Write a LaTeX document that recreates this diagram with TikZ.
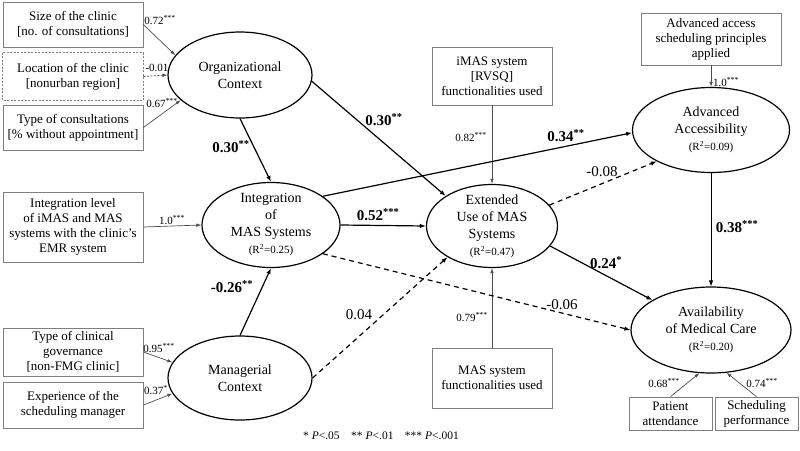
\documentclass[tikz,border=0pt]{standalone}
\usepackage{fontspec}
\setmainfont{Liberation Serif}
\usetikzlibrary{shapes.geometric,arrows.meta}
\definecolor{boxgray}{HTML}{7F7F7F}
\definecolor{arrgray}{HTML}{4D4D4D}

\begin{document}
\begin{tikzpicture}[x=1pt, y=-1pt, >={Latex[length=6pt,width=4.5pt]},
    construct/.style={ellipse, draw, line width=1.2pt, inner sep=-5pt, align=center, font=\fontsize{14}{17}\selectfont},
    indic/.style={rectangle, draw=boxgray, line width=0.8pt, inner sep=0pt, align=center, font=\fontsize{13}{15}\selectfont},
    meas/.style={>={Latex[length=5pt,width=3.5pt]}, ->, arrgray, line width=0.7pt},
    effect/.style={->, line width=1.2pt},
    weak/.style={effect, dash pattern=on 5pt off 4pt},
    loadlbl/.style={inner sep=1pt, font=\fontsize{11}{13}\selectfont},
    coef/.style={inner sep=1pt, font=\fontsize{15}{17}\selectfont\bfseries},
    nslbl/.style={inner sep=1pt, font=\fontsize{15}{17}\selectfont}]
    \useasboundingbox (0,0) rectangle (800,450);

    %Constructs
    \node at (240,75) [construct, minimum width=144pt, minimum height=86pt] (org) {Organizational\\Context};
    \node at (271,225) [construct, minimum width=138pt, minimum height=85pt] (integ) {Integration\\of\\MAS Systems\\{\fontsize{11}{17}\selectfont (R\textsuperscript{2}=0.25)}};
    \node at (240,378) [construct, minimum width=144pt, minimum height=84pt] (mgr) {Managerial\\Context};
    \node at (492,226) [construct, minimum width=131pt, minimum height=83pt] (ext) {Extended\\Use of MAS\\Systems\\{\fontsize{11}{17}\selectfont (R\textsuperscript{2}=0.47)}};
    \node at (711,130) [construct, minimum width=157pt, minimum height=85pt] (adv) {Advanced\\Accessibility\\{\fontsize{11}{17}\selectfont (R\textsuperscript{2}=0.09)}};
    \node at (711,330) [construct, minimum width=160pt, minimum height=86pt] (avail) {Availability\\of Medical Care\\{\fontsize{11}{17}\selectfont (R\textsuperscript{2}=0.20)}};

    %Indicators
    \node at (73,24.5) [indic, minimum width=140pt, minimum height=45pt] (size) {Size of the clinic\\{[no. of consultations]}};
    \node at (73,76.5) [indic, draw=none, minimum width=140pt, minimum height=47pt] (loc) {Location of the clinic\\{[nonurban region]}};
    \draw[boxgray, line width=0.8pt, dash pattern=on 2pt off 1.5pt] (loc.north west) rectangle (loc.south east);
    \node at (73,127.5) [indic, minimum width=140pt, minimum height=45pt] (cons) {Type of consultations\\{[\% without appointment]}};
    \node at (73,227) [indic, minimum width=140pt, minimum height=70pt] (level) {Integration level\\of iMAS and MAS\\systems with the clinic’s\\EMR system};
    \node at (73,352) [indic, minimum width=140pt, minimum height=48pt] (gov) {Type of clinical\\governance\\{[non-FMG clinic]}};
    \node at (73,405) [indic, minimum width=140pt, minimum height=46pt] (exp) {Experience of the\\scheduling manager};
    \node at (492,76) [indic, minimum width=120pt, minimum height=58pt] (imas) {iMAS system\\{[RVSQ]}\\functionalities used};
    \node at (492,378) [indic, minimum width=120pt, minimum height=60pt] (masf) {MAS system\\functionalities used};
    \node at (711,39) [indic, minimum width=140pt, minimum height=52pt] (aa) {Advanced access\\scheduling principles\\applied};
    \node at (670.5,413.5) [indic, minimum width=83pt, minimum height=33pt] (pat) {Patient\\attendance};
    \node at (756.5,413.5) [indic, minimum width=83pt, minimum height=33pt] (sched) {Scheduling\\performance};

    %Measurement
    \draw[meas] (size.east) -- (org.163);
    \draw[meas, dash pattern=on 2pt off 1.5pt] (loc.east) -- (org.west);
    \draw[meas] (cons.east) -- (org.203);
    \draw[meas] (level.east) -- (integ.west);
    \draw[meas] (gov.east) -- (mgr.167);
    \draw[meas] (exp.east) -- (mgr.193);
    \draw[meas] (imas.south) -- (ext.north);
    \draw[meas] (masf.north) -- (ext.south);
    \draw[meas] (aa.south) -- (adv.north);
    \draw[meas] (pat.north) -- (avail.255);
    \draw[meas] (sched.north) -- (avail.290);

    \node[loadlbl] at (160,20) (w1) {0.72\textsuperscript{***}};
    \node[loadlbl] at (157,68) (w2) {-0.01};
    \node[loadlbl] at (162,103) (w3) {0.67\textsuperscript{***}};
    \node[loadlbl] at (172,220) (w4) {1.0\textsuperscript{***}};
    \node[loadlbl] at (159,348) (w5) {0.95\textsuperscript{***}};
    \node[loadlbl] at (156,390) (w6) {0.37\textsuperscript{*}};
    \node[loadlbl] at (471,137) (w7) {0.82\textsuperscript{***}};
    \node[loadlbl] at (472,317) (w8) {0.79\textsuperscript{***}};
    \node[loadlbl] at (726,82) (w9) {1.0\textsuperscript{***}};
    \node[loadlbl] at (664,383) (w10) {0.68\textsuperscript{***}};
    \node[loadlbl] at (762,383) (w11) {0.74\textsuperscript{***}};

    %Structural paths
    \draw[effect] (org.south) -- (integ.north);
    \draw[effect] (org.-5) -- (ext.147);
    \draw[effect] (integ.29) -- (adv.182);
    \draw[effect] (integ.east) -- (ext.west);
    \draw[weak] (integ.-29) -- (avail.west);
    \draw[effect] (mgr.north) -- (integ.south);
    \draw[weak] (mgr.east) -- (ext.215);
    \draw[weak] (ext.20) -- (adv.210);
    \draw[effect] (ext.-19) -- (avail.153);
    \draw[effect, line width=0.8pt] (adv.south) -- (avail.north);

    \node[coef] at (231,147) (p1) {0.30\textsuperscript{**}};
    \node[coef] at (384,120) (p2) {0.30\textsuperscript{**}};
    \node[coef] at (566,136) (p3) {0.34\textsuperscript{**}};
    \node[coef] at (378,215) (p4) {0.52\textsuperscript{***}};
    \node[coef] at (232,287) (p5) {-0.26\textsuperscript{**}};
    \node[coef] at (606,263) (p6) {0.24\textsuperscript{*}};
    \node[coef] at (737,227) (p7) {0.38\textsuperscript{***}};
    \node[nslbl] at (562,305) (q1) {-0.06};
    \node[nslbl] at (359,315) (q2) {0.04};
    \node[nslbl] at (602,172) (q3) {-0.08};

    %Note
    \node[font=\fontsize{11.5}{13}\selectfont] at (381,436) (note) {* \textit{P}<.05\quad ** \textit{P}<.01\quad *** \textit{P}<.001};
\end{tikzpicture}
\end{document}
